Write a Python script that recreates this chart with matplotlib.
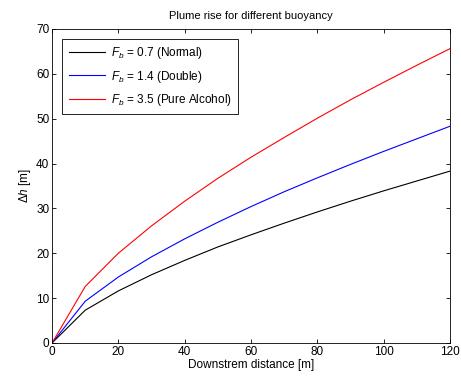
import matplotlib
matplotlib.use("Agg")
import matplotlib.pyplot as plt

plt.rcParams['font.family'] = ['Liberation Sans', 'DejaVu Sans']
plt.rcParams['mathtext.fontset'] = 'custom'
plt.rcParams['mathtext.it'] = 'Liberation Sans:italic'
plt.rcParams['mathtext.rm'] = 'Liberation Sans'

x = [0, 10, 20, 30, 40, 50, 60, 70, 80, 90, 100, 110, 120]
normal = [0, 7.3, 11.6, 15.2, 18.4, 21.4, 24.1, 26.7, 29.2, 31.6, 33.9, 36.1, 38.3]
double = [0, 9.3, 14.7, 19.2, 23.2, 26.9, 30.4, 33.7, 36.8, 39.8, 42.7, 45.5, 48.3]
alcohol = [0, 12.6, 20.0, 26.1, 31.6, 36.7, 41.4, 45.8, 50.1, 54.2, 58.1, 61.9, 65.6]
labels = [r'$F_b$ = 0.7 (Normal)', r'$F_b$ = 1.4 (Double)', r'$F_b$ = 3.5 (Pure Alcohol)']

fig = plt.figure(figsize=(4.61, 3.76), dpi=100)
ax = fig.add_axes([0.113, 0.088, 0.863, 0.835])
ax.plot(x, normal, color='black', lw=0.8, label=labels[0])
ax.plot(x, double, color='blue', lw=0.8, label=labels[1])
ax.plot(x, alcohol, color='red', lw=0.8, label=labels[2])
ax.set_xlim(0, 120)
ax.set_ylim(0, 70)
ax.set_xticks(range(0, 121, 20))
ax.set_yticks(range(0, 71, 10))
ax.tick_params(direction='in', top=True, right=True, labelsize=8.5, length=3, width=0.6, pad=2)
for s in ax.spines.values():
    s.set_linewidth(0.6)
ax.set_title('Plume rise for different buoyancy', fontsize=8, pad=7)
ax.set_xlabel('Downstrem distance [m]', fontsize=8.5, labelpad=1)
ax.set_ylabel(r'$\Delta h$ [m]', fontsize=8.5, labelpad=2)
leg = ax.legend(loc='upper left', prop={'size': 8.5}, fancybox=False, edgecolor='black',
                framealpha=1, borderaxespad=0.85, handlelength=3.1, labelspacing=0.6,
                borderpad=0.55, handletextpad=0.5)
leg.get_frame().set_linewidth(0.6)
fig.savefig('out.png', dpi=100)
